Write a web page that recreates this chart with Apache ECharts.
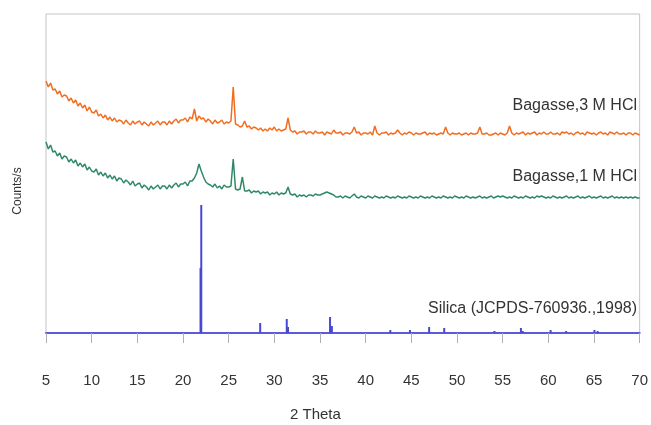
<!DOCTYPE html>
<html>
<head>
<meta charset="utf-8">
<script src="https://cdn.jsdelivr.net/npm/echarts@6/dist/echarts.min.js"></script>
<style>
html,body{margin:0;padding:0;background:#fff;}
#chart{width:651px;height:425px;}
</style>
</head>
<body>
<div id="chart"></div>
<script>
// 2θ scan: first angle and step of the recorded patterns (degrees)
const scanStart = 5;
const scanStep = 0.25;

// Bagasse, 3 M HCl (counts, arbitrary units) — one value per 0.25° from 5° to 70°
const bagasse3M = [
252,246,250,243, 244,239,242,236, 238,237,232,235, 230,233,227,230,
225,228,222,226, 221,220,223,217, 219,215,218,213, 216,212,215,211,
213,212,209,213, 210,208,212,209, 211,212,208,211, 209,207,211,208,
210,212,208,211, 211,208,212,209, 212,214,210,213, 213,215,211,216,
214,224,212,217, 214,215,211,214, 212,209,213,210, 211,213,209,211,
210,212,246,209, 208,206,207,212, 206,207,204,206, 205,203,205,202,
204,202,205,203, 206,202,204,202, 203,204,215,203, 201,202,199,201,
201,202,199,201, 201,199,202,200, 200,201,198,201, 200,199,203,200,
200,201,198,200, 200,199,201,206, 200,201,198,200, 200,199,201,198,
207,200,198,200, 200,201,198,200, 199,200,203,200, 198,200,199,201,
200,198,200,199, 199,200,201,198, 200,199,200,198, 199,200,199,206,
200,198,200,199, 199,200,198,199, 200,198,200,199, 199,200,206,199,
199,200,198,198, 199,200,198,200, 199,198,200,207, 200,198,200,199,
200,201,198,200, 199,200,201,198, 200,199,201,199, 199,201,199,199,
200,198,201,200, 201,199,200,198, 200,201,199,200, 198,201,200,199,
200,198,200,201, 199,200,198,201, 200,199,201,199, 199,200,198,200,
200,198,200,199, 198
];

// Bagasse, 1 M HCl (counts, arbitrary units) — one value per 0.25° from 5° to 70°
const bagasse1M = [
191,184,188,181, 182,177,180,174, 177,176,171,174, 170,173,167,170,
166,169,163,166, 162,161,164,158, 161,157,160,155, 158,154,157,152,
155,154,150,153, 151,148,152,147, 149,150,145,148, 146,143,147,144,
146,148,144,147, 147,144,148,145, 148,150,146,149, 149,151,147,152,
152,155,160,169, 162,156,151,149, 148,146,149,145, 147,144,148,146,
146,147,174,144, 143,144,156,142, 142,143,140,142, 141,142,139,141,
140,141,138,140, 139,141,138,140, 139,140,146,139, 138,139,136,138,
137,138,136,138, 138,137,139,138, 138,139,140,141, 140,139,138,136,
136,137,135,137, 136,135,137,139, 136,135,137,136, 135,137,136,135,
137,136,135,136, 135,137,136,135, 136,135,137,136, 135,136,135,137,
136,135,136,135, 137,136,135,136, 135,137,136,135, 136,135,137,136,
135,136,135,137, 136,135,136,135, 137,136,135,136, 135,136,137,135,
136,135,136,137, 135,136,137,136, 137,136,135,136, 135,137,136,135,
136,135,137,136, 135,136,135,137, 136,137,136,135, 136,135,137,136,
135,136,135,136, 137,135,136,135, 136,137,135,136, 135,136,137,135,
136,135,136,137, 135,136,135,136, 137,135,136,135, 136,135,136,135,
136,135,136,135, 135
];

// Silica reference pattern (JCPDS-760936): peak positions (2θ) and intensities
const silicaAngles = [21.92, 22.0, 28.45, 31.36, 31.5, 36.1, 36.3, 42.7, 44.85, 46.95, 48.6, 54.1, 57.0, 57.2, 60.25, 61.95, 65.05, 65.4];
const silicaHeights = [65, 128, 10, 14, 6, 16, 7, 3, 3, 6, 5, 2, 5, 2, 3, 2, 3, 2];

// Axis ticks and labels
const xTicks = [5, 10, 15, 20, 25, 30, 35, 40, 45, 50, 55, 60, 65, 70];
const seriesLabels = ['Bagasse,3 M HCl', 'Bagasse,1 M HCl', 'Silica (JCPDS-760936.,1998)'];

function toPairs(values) {
  return values.map((v, i) => [scanStart + i * scanStep, v]);
}
const silicaData = silicaAngles.map((a, i) => [a, silicaHeights[i]]);

const chart = echarts.init(document.getElementById('chart'), null, { renderer: 'canvas' });
const font = '"Liberation Sans", Arial, sans-serif';
const txt = '#333333';

chart.setOption({
  animation: false,
  backgroundColor: '#ffffff',
  grid: {
    left: 46, right: 9, top: 14, bottom: 92,
    show: true, borderColor: '#c4c4c4', borderWidth: 1, backgroundColor: 'transparent'
  },
  xAxis: {
    type: 'value',
    min: xTicks[0], max: xTicks[xTicks.length - 1], interval: 5,
    axisLine: { show: true, onZero: false, lineStyle: { color: '#5b5bd9', width: 2 } },
    axisTick: { show: true, inside: false, length: 10, lineStyle: { color: '#b0b0b0', width: 1 } },
    axisLabel: { color: txt, fontFamily: font, fontSize: 15, margin: 40 },
    splitLine: { show: false }
  },
  yAxis: {
    type: 'value', min: 0, max: 319,
    axisLine: { show: false }, axisTick: { show: false },
    axisLabel: { show: false }, splitLine: { show: false }
  },
  series: [
    {
      name: seriesLabels[0], type: 'line', data: toPairs(bagasse3M),
      showSymbol: false, symbol: 'none',
      lineStyle: { color: '#f26d1f', width: 1.5 }, z: 3
    },
    {
      name: seriesLabels[1], type: 'line', data: toPairs(bagasse1M),
      showSymbol: false, symbol: 'none',
      lineStyle: { color: '#2e8a66', width: 1.5 }, z: 3
    },
    {
      name: seriesLabels[2], type: 'bar', data: silicaData,
      barWidth: 2, itemStyle: { color: '#4848d4' }, z: 4
    }
  ],
  graphic: [
    { type: 'text', right: 651 - 637, top: 98,
      style: { text: seriesLabels[0], fill: txt, font: '16px ' + font } },
    { type: 'text', right: 651 - 637, top: 169,
      style: { text: seriesLabels[1], fill: txt, font: '16px ' + font } },
    { type: 'text', right: 651 - 637, top: 301,
      style: { text: seriesLabels[2], fill: txt, font: '16px ' + font } },
    { type: 'text', left: 290, top: 407,
      style: { text: '2 Theta', fill: txt, font: '15px ' + font } },
    { type: 'text', x: 18, y: 191, rotation: Math.PI / 2,
      style: { text: 'Counts/s', fill: txt, font: '12px ' + font, align: 'center', verticalAlign: 'middle' } }
  ]
});
</script>
</body>
</html>
